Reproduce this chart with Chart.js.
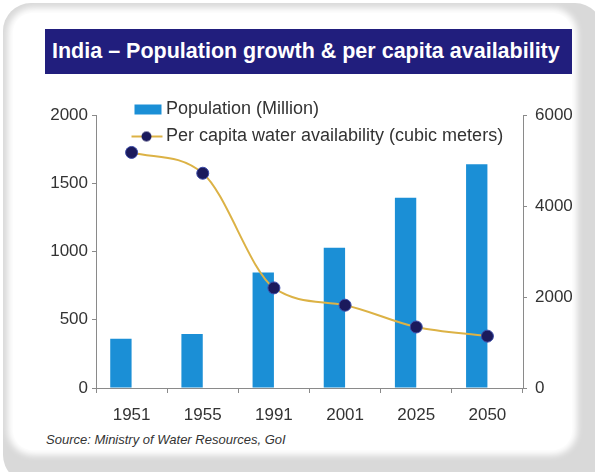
<!DOCTYPE html>
<html>
<head>
<meta charset="utf-8">
<script src="https://cdn.jsdelivr.net/npm/chart.js@4/dist/chart.umd.min.js"></script>
<style>
  html, body { margin: 0; padding: 0; background: #fff; }
  body { width: 595px; height: 472px; position: relative; overflow: hidden; font-family: "Liberation Sans", Arial, sans-serif; }
  .frame { position: absolute; left: 3px; top: 3px; width: 600px; height: 480px; border-radius: 28px; background: #d9d9d9; }
  .card { position: absolute; left: 13px; top: 13px; width: 559px; height: 437px; border-radius: 20px; background: #fff; box-shadow: 0 0 6px 5px #fff; }
  .title { position: absolute; left: 45px; top: 29px; width: 520px; height: 45px; line-height: 45px; padding-left: 7px; background: #211e7d; color: #fff; font-weight: bold; font-size: 21.5px; white-space: nowrap; overflow: hidden; }
  .source { position: absolute; left: 46px; top: 432px; font-size: 13px; font-style: italic; color: #333; }
  #chart { position: absolute; left: 15px; top: 90px; }
</style>
</head>
<body>
<div class="frame"></div>
<div class="card"></div>
<div class="title">India – Population growth &amp; per capita availability</div>
<canvas id="chart" width="557" height="340"></canvas>
<div class="source">Source: Ministry of Water Resources, GoI</div>
<script>
const years = ["1951", "1955", "1991", "2001", "2025", "2050"];
const population = [361, 395, 846, 1027, 1394, 1640];
const waterPerCapita = [5177, 4720, 2200, 1820, 1341, 1140];
const leftTicks = [0, 500, 1000, 1500, 2000];
const rightTicks = [0, 2000, 4000, 6000];

const barColor = "#1b8fd6";
const lineColor = "#dcb245";
const dotColor = "#1b1a5c";
const axisColor = "#8a8a8a";
const textColor = "#333";
const font = { family: "'Liberation Sans', Arial, sans-serif", size: 17 };
const legendFont = { family: "'Liberation Sans', Arial, sans-serif", size: 18 };

// legend symbols drawn as small canvases
function legendIcon(kind) {
  const c = document.createElement("canvas");
  c.width = 44;
  c.height = 16;
  const g = c.getContext("2d");
  if (kind === "bar") {
    g.fillStyle = barColor;
    g.fillRect(14.5, 3, 27, 10);
  } else {
    g.strokeStyle = lineColor;
    g.lineWidth = 2;
    g.beginPath();
    g.moveTo(11.5, 8);
    g.lineTo(42.5, 8);
    g.stroke();
    g.fillStyle = dotColor;
    g.beginPath();
    g.arc(26.5, 8, 5, 0, Math.PI * 2);
    g.fill();
  }
  return c;
}

// legend sits over the top of the plot, like the original
const moveLegend = {
  id: "moveLegend",
  afterLayout(chart) {
    const l = chart.legend;
    l.left = 103;
    l.right = l.left + l.width;
    l.top = 1.5;
    l.bottom = l.top + l.height;
  },
};

const plainTicks = (value) => String(value);

const ctx = document.getElementById("chart").getContext("2d");

new Chart(ctx, {
  data: {
    labels: years,
    datasets: [
      {
        type: "bar",
        label: "Population (Million)",
        data: population,
        backgroundColor: barColor,
        yAxisID: "y",
        order: 2,
      },
      {
        type: "bar",
        label: "",
        data: years.map(() => null),
        yAxisID: "y",
        order: 3,
      },
      {
        type: "line",
        label: "Per capita water availability (cubic meters)",
        data: waterPerCapita,
        borderColor: lineColor,
        borderWidth: 2,
        cubicInterpolationMode: "monotone",
        pointRadius: 6,
        pointBackgroundColor: dotColor,
        pointBorderColor: "#3b4aa6",
        pointBorderWidth: 1,
        yAxisID: "y1",
        order: 1,
      },
    ],
  },
  options: {
    responsive: false,
    animation: false,
    datasets: {
      bar: {
        categoryPercentage: 0.6,
        barPercentage: 1,
      },
    },
    layout: {
      padding: { left: 33, right: 0, top: 25, bottom: 6 },
    },
    scales: {
      x: {
        offset: true,
        grid: {
          offset: true,
          drawOnChartArea: false,
          tickLength: 5,
          color: axisColor,
        },
        border: { color: axisColor },
        ticks: { font: font, color: textColor, padding: 12 },
        afterFit: (scale) => {
          scale.height = 36;
        },
      },
      y: {
        position: "left",
        min: 0,
        max: 2000,
        afterBuildTicks: (scale) => {
          scale.ticks = leftTicks.map((v) => ({ value: v }));
        },
        grid: { drawOnChartArea: false, tickLength: 4, color: axisColor },
        border: { color: axisColor },
        ticks: { font: font, color: textColor, padding: 4, callback: plainTicks },
        afterFit: (scale) => {
          scale.width = 48;
        },
      },
      y1: {
        position: "right",
        min: 0,
        max: 6000,
        afterBuildTicks: (scale) => {
          scale.ticks = rightTicks.map((v) => ({ value: v }));
        },
        grid: { drawOnChartArea: false, tickLength: 4, color: axisColor },
        border: { color: axisColor },
        ticks: { font: font, color: textColor, padding: 8, callback: plainTicks },
        afterFit: (scale) => {
          scale.width = 49;
        },
      },
    },
    plugins: {
      tooltip: { enabled: false },
      legend: {
        position: "chartArea",
        align: "start",
        labels: {
          font: legendFont,
          color: textColor,
          padding: 9,
          usePointStyle: true,
          pointStyleWidth: 30,
          generateLabels: (chart) => [
            {
              text: chart.data.datasets[0].label,
              pointStyle: legendIcon("bar"),
              fillStyle: barColor,
              strokeStyle: barColor,
              lineWidth: 0,
              fontColor: textColor,
              datasetIndex: 0,
            },
            {
              text: chart.data.datasets[2].label,
              pointStyle: legendIcon("line"),
              fillStyle: dotColor,
              strokeStyle: lineColor,
              lineWidth: 0,
              fontColor: textColor,
              datasetIndex: 2,
            },
          ],
        },
      },
    },
  },
  plugins: [moveLegend],
});
</script>
</body>
</html>
